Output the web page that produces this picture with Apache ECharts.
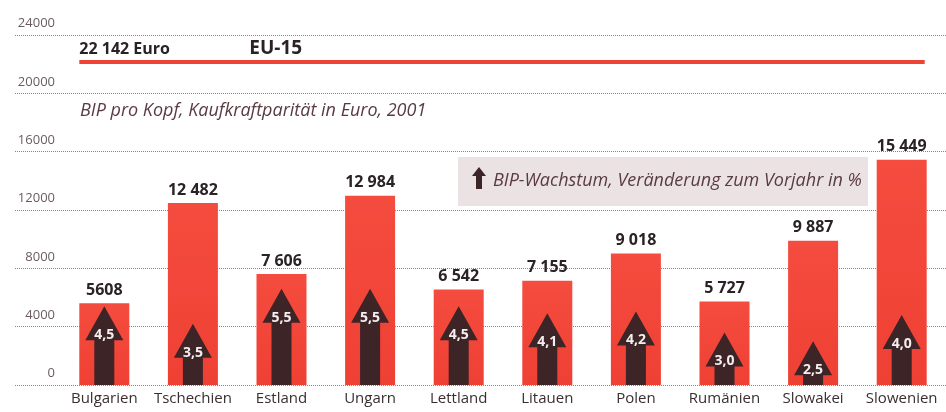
<!DOCTYPE html>
<html>
<head>
<meta charset="utf-8">
<script src="https://cdn.jsdelivr.net/npm/echarts@6/dist/echarts.min.js"></script>
<style>
  html, body { margin: 0; padding: 0; background: #ffffff; }
  #chart { width: 946px; height: 412px; }
</style>
</head>
<body>
<div id="chart"></div>
<script>
// Daten
const categories = ['Bulgarien', 'Tschechien', 'Estland', 'Ungarn', 'Lettland', 'Litauen', 'Polen', 'Rumänien', 'Slowakei', 'Slowenien']
const gdpPerCapita = [5608, 12482, 7606, 12984, 6542, 7155, 9018, 5727, 9887, 15449]
const gdpLabels = ['5608', '12 482', '7 606', '12 984', '6 542', '7 155', '9 018', '5 727', '9 887', '15 449']
const growth = [4.5, 3.5, 5.5, 5.5, 4.5, 4.1, 4.2, 3.0, 2.5, 4.0]
const euAverage = 22142
const euLabel = '22 142 Euro'

const FONT = '"Open Sans", "Noto Sans", sans-serif'
const ARROW = '#3d2427'
const TEXT = '#5a3b42'

const chart = echarts.init(document.getElementById('chart'))

const option = {
  animation: false,
  grid: [
    { left: 15, right: 0, top: 35, bottom: 27 },
    { left: 60, right: -9, top: 35, bottom: 27 }
  ],
  xAxis: [
    { gridIndex: 0, type: 'value', show: false, min: 0, max: 1 },
    {
      gridIndex: 1,
      type: 'category',
      data: categories,
      axisLine: { show: false },
      axisTick: { show: false },
      axisLabel: { interval: 0, color: '#3a2e30', fontSize: 15, fontFamily: FONT, margin: 6 }
    }
  ],
  yAxis: [
    {
      gridIndex: 0,
      type: 'value',
      min: 0,
      max: 24000,
      interval: 4000,
      axisLine: { show: false },
      axisTick: { show: false },
      axisLabel: {
        inside: true,
        margin: 40,
        align: 'right',
        verticalAlign: 'bottom',
        padding: [0, 0, 5, 0],
        formatter: v => String(v),
        color: '#6a5c5e',
        fontSize: 13,
        fontFamily: FONT
      },
      splitLine: { lineStyle: { color: '#8e7f80', type: [1, 1], width: 1 } }
    },
    { gridIndex: 1, type: 'value', min: 0, max: 24000, show: false, splitLine: { show: false } },
    { gridIndex: 1, type: 'value', min: 0, max: 20, show: false, splitLine: { show: false } }
  ],
  graphic: [
    {
      type: 'text',
      left: 80,
      top: 102,
      style: {
        text: 'BIP pro Kopf, Kaufkraftparität in Euro, 2001',
        fill: TEXT,
        font: 'italic 18px ' + FONT
      }
    },
    {
      type: 'rect',
      shape: { x: 458, y: 157, width: 410, height: 49 },
      style: { fill: '#ebe3e3' },
      z: 1
    },
    {
      type: 'polygon',
      shape: { points: [[479, 167], [486, 176], [482, 176], [482, 189], [476, 189], [476, 176], [472, 176]] },
      style: { fill: ARROW },
      z: 2
    },
    {
      type: 'text',
      x: 493,
      y: 181,
      style: {
        text: 'BIP-Wachstum, Veränderung zum Vorjahr in %',
        fill: TEXT,
        font: 'italic 18px ' + FONT,
        verticalAlign: 'middle'
      },
      z: 2
    }
  ],
  series: [
    {
      type: 'bar',
      xAxisIndex: 1,
      yAxisIndex: 1,
      data: gdpPerCapita,
      barWidth: 50,
      itemStyle: {
        color: new echarts.graphic.LinearGradient(0, 0, 0, 1, [
          { offset: 0, color: '#f44c3e' },
          { offset: 1, color: '#ef4034' }
        ])
      },
      label: {
        show: true,
        position: 'top',
        distance: 5,
        formatter: p => gdpLabels[p.dataIndex],
        color: '#2a2224',
        fontSize: 16,
        fontWeight: 'bold',
        fontFamily: FONT
      },
      z: 3
    },
    {
      // Wachstumspfeile
      type: 'custom',
      xAxisIndex: 1,
      yAxisIndex: 2,
      data: growth.map((g, i) => [i, g]),
      encode: { x: 0, y: 1 },
      renderItem: (params, api) => {
        const i = api.value(0)
        const g = api.value(1)
        const base = api.coord([i, 0])
        const tip = api.coord([i, g])
        const x = base[0]
        const headY = tip[1] + 34
        return {
          type: 'group',
          children: [
            {
              type: 'polygon',
              shape: {
                points: [
                  [x, tip[1]], [x + 19, headY], [x + 10, headY], [x + 10, base[1]],
                  [x - 10, base[1]], [x - 10, headY], [x - 19, headY]
                ]
              },
              style: { fill: ARROW }
            },
            {
              type: 'text',
              x: x,
              y: tip[1] + 29,
              style: {
                text: g.toFixed(1).replace('.', ','),
                fill: '#f4eeee',
                font: 'bold 14px ' + FONT,
                align: 'center',
                verticalAlign: 'middle'
              }
            }
          ]
        }
      },
      z: 4
    },
    {
      // EU-15 Durchschnitt
      type: 'custom',
      xAxisIndex: 1,
      yAxisIndex: 1,
      data: [[0, euAverage]],
      encode: { x: 0, y: 1 },
      renderItem: (params, api) => {
        const v = api.value(1)
        const left = api.coord([0, v])[0] - 25
        const right = api.coord([categories.length - 1, v])[0] + 23
        const y = api.coord([0, v])[1]
        return {
          type: 'group',
          children: [
            {
              type: 'line',
              shape: { x1: left, y1: y, x2: right, y2: y },
              style: { stroke: '#ee4436', lineWidth: 4 }
            },
            {
              type: 'text',
              x: left,
              y: y - 13,
              style: { text: euLabel, fill: '#2a2224', font: 'bold 16px ' + FONT, verticalAlign: 'middle' }
            },
            {
              type: 'text',
              x: left + 170,
              y: y - 14,
              style: { text: 'EU-15', fill: '#2a2224', font: 'bold 19px ' + FONT, verticalAlign: 'middle' }
            }
          ]
        }
      },
      z: 3
    }
  ]
}

chart.setOption(option)
</script>
</body>
</html>
